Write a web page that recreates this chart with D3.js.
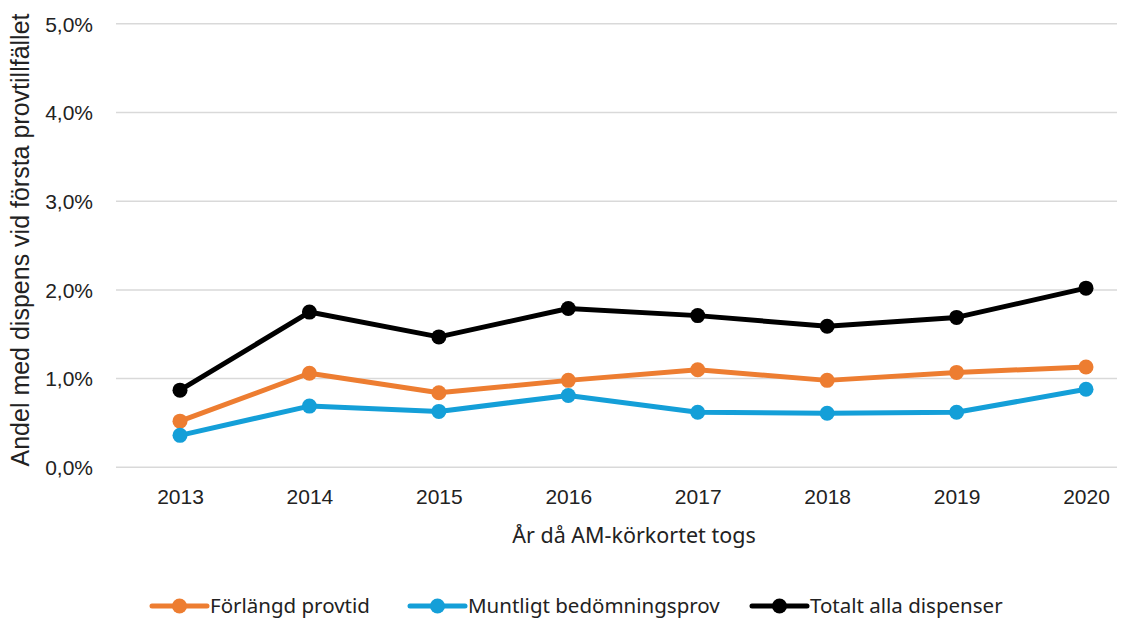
<!DOCTYPE html>
<html><head><meta charset="utf-8">
<script src="https://cdn.jsdelivr.net/npm/d3@7"></script>
<style>body{margin:0;background:#fff}</style>
</head><body>
<svg id="c" width="1137" height="619"></svg>
<script>
const years = ["2013","2014","2015","2016","2017","2018","2019","2020"];
const forlangd = [0.52,1.06,0.84,0.98,1.10,0.98,1.07,1.13];
const muntligt = [0.36,0.69,0.63,0.81,0.62,0.61,0.62,0.88];
const totalt = [0.87,1.75,1.47,1.79,1.71,1.59,1.69,2.02];
const yTicks = [0,1,2,3,4,5];
const seriesNames = ["Förlängd provtid","Muntligt bedömningsprov","Totalt alla dispenser"];
const colors = ["#ED7D31","#149FD8","#000000"];
const series = [forlangd, muntligt, totalt];

const svg = d3.select("#c");
const x = d3.scalePoint().domain(years).range([180,1086]);
const y = d3.scaleLinear().domain([0,5]).range([467.3,23.8]);
const fmt = v => v.toFixed(1).replace(".", ",") + "%";

// gridlines
svg.append("g").selectAll("line").data(yTicks).join("line")
  .attr("x1",116).attr("x2",1117)
  .attr("y1",d=>y(d)).attr("y2",d=>y(d))
  .attr("stroke","#d9d9d9").attr("stroke-width",1.5);

// y axis labels
const yAxis = d3.axisLeft(y).tickValues(yTicks).tickFormat(fmt).tickSize(0).tickPadding(0);
const ga = svg.append("g").attr("transform","translate(93,0)").call(yAxis);
ga.select(".domain").remove();
ga.selectAll("text").attr("font-family","Liberation Sans, Arial, sans-serif").attr("font-size",21).attr("fill","#222").attr("dy","0.35em");

// x axis labels
const xAxis = d3.axisBottom(x).tickSize(0).tickPadding(0);
const gx = svg.append("g").attr("transform","translate(0,489)").call(xAxis);
gx.select(".domain").remove();
gx.selectAll("text").attr("font-family","Liberation Sans, Arial, sans-serif").attr("font-size",21).attr("fill","#222").attr("dy","0.71em");

// axis titles
svg.append("text").attr("x",634).attr("y",543).attr("text-anchor","middle")
  .attr("font-family","Noto Sans, sans-serif").attr("font-size",21.5).attr("fill","#222")
  .text("År då AM-körkortet togs");
svg.append("text").attr("transform","translate(29,240) rotate(-90)").attr("text-anchor","middle")
  .attr("font-family","Liberation Sans, Arial, sans-serif").attr("font-size",25).attr("fill","#222")
  .text("Andel med dispens vid första provtillfället");

// lines
const line = d3.line().x((d,i)=>x(years[i])).y(d=>y(d));
series.forEach((s,k)=>{
  const g = svg.append("g");
  g.append("path").datum(s).attr("d",line).attr("fill","none")
    .attr("stroke",colors[k]).attr("stroke-width",5).attr("stroke-linejoin","round");
  g.selectAll("circle").data(s).join("circle")
    .attr("cx",(d,i)=>x(years[i])).attr("cy",d=>y(d)).attr("r",7.5).attr("fill",colors[k]);
});

// legend
const legX = [152,410,752];
seriesNames.forEach((n,k)=>{
  const g = svg.append("g").attr("transform",`translate(${legX[k]},606)`);
  g.append("line").attr("x1",0).attr("x2",55).attr("stroke",colors[k]).attr("stroke-width",5).attr("stroke-linecap","round");
  g.append("circle").attr("cx",27.5).attr("r",7.5).attr("fill",colors[k]);
  g.append("text").attr("x",58).attr("dy","0.35em").attr("font-family","Noto Sans, sans-serif")
    .attr("font-size",20.5).attr("fill","#222").text(n);
});
</script>
</body></html>
